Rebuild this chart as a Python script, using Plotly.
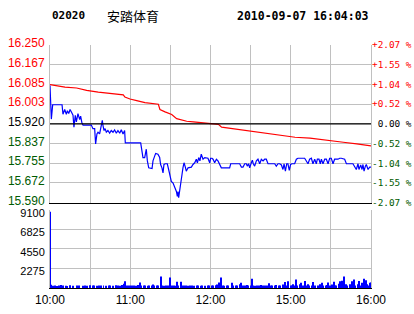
import plotly.graph_objects as go

# ---------------- data ----------------
CODE = "02020"
NAME = "安踏体育"
STAMP = "2010-09-07 16:04:03"
PREV_CLOSE = 15.920

# minutes since 10:00 (trading minutes; 12:30 joins 14:30)
PRICE_T = [0, 1, 2, 9, 9.7, 11, 12.2, 13, 14, 15, 16, 17.2, 17.9, 18.9, 19.7, 20.9, 22.2, 22.9, 23.9, 24.7,
           30.9, 32.1, 33.4, 34.1, 35.1, 35.9, 37.1, 37.9, 39.1, 39.6, 40.4, 41.2, 42.1, 43.3, 44.6, 45.8,
           47.1, 48.3, 49.6, 50.8, 52.1, 53.3, 54.6, 55.8, 56.3,
           67.8, 68.3, 69.5, 70.8, 71.3, 72.0, 72.8, 73.8, 76.3, 77.0, 78.3, 79.0, 80.7, 82.0, 82.7, 83.7,
           84.5, 85.2, 86.2, 87.7, 88.7, 89.5, 90.7, 92.0, 93.2, 94.5, 95.2, 95.7, 96.2, 97.0, 97.7, 98.7,
           99.4, 100.2, 101.2, 101.9, 103.2, 104.4, 105.7, 106.9, 108.2, 109.4, 110.2, 111.2, 112.1, 113.1,
           114.4, 115.7, 118.1, 119.4, 120.1, 121.1,
           121.9, 123.1, 124.4, 125.6, 126.9, 128.1, 134.3, 135.1, 141.8, 143.1, 144.3, 145.6, 146.8, 147.5,
           148.5, 149.3, 150.5, 151.3, 152.0, 153.0, 154.3, 155.5, 156.8, 158.0, 159.3, 160.5, 161.7, 163.0,
           168.0, 169.2, 170.5, 171.7, 173.0, 174.2, 175.0, 176.0, 177.0, 177.9, 178.9, 179.9, 180.9,
           181.7, 182.9, 184.2, 185.4, 190.4, 191.6, 192.9, 194.1, 195.4, 196.6, 197.9, 199.1, 199.9, 201.1,
           202.1, 202.9, 204.1, 205.4, 206.6, 207.9, 209.1, 210.3, 211.6, 212.8, 215.3, 216.6, 217.8, 220.3,
           221.6, 226.5, 227.8, 229.0, 230.3, 231.0, 232.3, 233.3, 234.0, 234.8, 235.8, 236.5, 237.8, 239.0, 240]
PRICE_V = [16.08, 15.94, 16.00, 16.00, 15.96, 15.98, 15.96, 15.975, 15.963, 15.98, 15.97, 15.956, 15.906,
           15.956, 15.928, 15.963, 15.938, 15.952, 15.923, 15.915,
           15.915, 15.90, 15.90, 15.836, 15.878, 15.885, 15.878, 15.906, 15.935, 15.914, 15.892, 15.90,
           15.885, 15.892, 15.881, 15.892, 15.885, 15.895, 15.881, 15.892, 15.881, 15.895, 15.878, 15.892,
           15.84,
           15.84, 15.814, 15.779, 15.779, 15.793, 15.814, 15.765, 15.736, 15.733, 15.765, 15.786, 15.796,
           15.793, 15.779, 15.75, 15.736, 15.715, 15.75, 15.753, 15.753, 15.729, 15.708, 15.679, 15.672,
           15.658, 15.637, 15.616, 15.637, 15.611, 15.651, 15.672, 15.708, 15.736, 15.757, 15.739, 15.722,
           15.736, 15.736, 15.739, 15.75, 15.757, 15.772, 15.757, 15.779, 15.765, 15.793, 15.772, 15.779,
           15.776, 15.757, 15.776, 15.776,
           15.772, 15.757, 15.772, 15.765, 15.753, 15.736, 15.736, 15.753, 15.753, 15.739, 15.739, 15.753,
           15.753, 15.743, 15.753, 15.736, 15.757, 15.768, 15.753, 15.743, 15.765, 15.772, 15.753, 15.772,
           15.765, 15.772, 15.772, 15.753, 15.753, 15.743, 15.753, 15.753, 15.748, 15.729, 15.753, 15.722,
           15.753, 15.753, 15.725, 15.75, 15.753,
           15.753, 15.753, 15.772, 15.776, 15.776, 15.765, 15.753, 15.772, 15.776, 15.753, 15.772, 15.753,
           15.772, 15.772, 15.753, 15.772, 15.753, 15.772, 15.772, 15.753, 15.776, 15.776, 15.753, 15.772,
           15.772, 15.776, 15.776, 15.772, 15.753, 15.753, 15.743, 15.729, 15.753, 15.729, 15.748, 15.729,
           15.75, 15.722, 15.743, 15.75, 15.729, 15.739, 15.739]

AVG_T = [0, 11.2, 19.9, 27.4, 36.1, 43.6, 54.8, 56, 59.8, 64.8, 71, 81, 82.2, 86, 91, 94.7, 98.5, 102.2,
         107.2, 115.9, 117.1, 125.9, 128.3, 135.8, 142, 149.5, 158.3, 165.7, 172, 183.2, 194.4, 206.9,
         219.3, 229.3, 236.8, 240]
AVG_V = [16.084, 16.074, 16.070, 16.060, 16.053, 16.049, 16.041, 16.032, 16.024, 16.017, 16.009, 16.002,
         15.98, 15.970, 15.959, 15.942, 15.935, 15.931, 15.928, 15.923, 15.921, 15.918, 15.906, 15.90,
         15.895, 15.889, 15.882, 15.878, 15.874, 15.864, 15.86, 15.853, 15.843, 15.836, 15.831, 15.828]

VOLUME = [8900, 380, 250, 0, 300, 220, 0, 280, 350, 0, 300, 0, 260, 200, 0, 320, 0, 250, 0, 0,
          280, 0, 300, 0, 0, 260, 300, 0, 250, 0, 330, 0, 280, 300, 0, 250, 0, 300, 280, 0,
          300, 0, 250, 0, 280, 300, 0, 260, 0, 320, 0, 300, 250, 0, 340, 500, 780, 300, 280, 0,
          300, 280, 0, 300, 250, 0, 350, 650, 300, 0, 280, 300, 0, 250, 300, 0, 280, 400, 300, 0,
          300, 280, 0, 1340, 300, 250, 0, 280, 300, 0, 1230, 280, 0, 300, 250, 720, 300, 0, 720, 280,
          300, 0, 280, 250, 0, 300, 280, 0, 260, 0, 300, 280, 0, 250, 300, 0, 260, 0, 300, 280,
          0, 300, 280, 0, 320, 420, 650, 0, 1230, 300, 250, 0, 280, 300, 0, 0, 620, 300, 0, 280,
          300, 0, 450, 620, 300, 0, 280, 350, 300, 0, 280, 1070, 300, 250, 0, 300, 280, 0, 350, 300,
          0, 280, 300, 0, 550, 300, 280, 0, 300, 350, 0, 300, 280, 0, 400, 300, 700, 300, 800, 0,
          300, 280, 450, 300, 1000, 300, 0, 450, 620, 300, 0, 820, 300, 450, 280, 0, 300, 700, 300, 0,
          280, 300, 450, 600, 300, 0, 280, 350, 650, 300, 0, 400, 720, 300, 280, 0, 500, 780, 850, 300,
          1340, 450, 300, 0, 450, 300, 780, 1000, 300, 0, 450, 820, 300, 600, 0, 1070, 900, 450, 300, 600,
          650]
VOL_T = list(range(len(VOLUME)))

PRICE_TICKS = [15.590, 15.6725, 15.755, 15.8375, 15.920, 16.0025, 16.085, 16.1675, 16.250]
PRICE_LABELS = ["15.590", "15.672", "15.755", "15.837", "15.920", "16.003", "16.085", "16.167", "16.250"]
PCT_TICKS = [-2.0729, -1.5547, -1.0364, -0.5182, 0.0, 0.5182, 1.0364, 1.5547, 2.0729]
PCT_LABELS = ["-2.07 %", "-1.55 %", "-1.04 %", "-0.52 %", "\u00a00.00 %", "+0.52 %", "+1.04 %", "+1.55 %", "+2.07 %"]
VOL_TICKS = [0, 2275, 4550, 6825, 9100]
VOL_LABELS = ["", "2275", "4550", "6825", "9100"]
TIME_TICKS = [0, 30, 60, 90, 120, 150, 180, 210, 240]
TIME_LABELS = ["10:00", "", "11:00", "", "12:00", "", "15:00", "", "16:00"]

# ---------------- style ----------------
RED = "#ff0000"
GREEN = "#005a00"
BLACK = "#000000"
GRID = "#c0c0c0"
BLUE = "#0000ff"


def colored(labels, ticks, mid):
    out = []
    for lab, t in zip(labels, ticks):
        c = RED if t > mid + 1e-9 else (GREEN if t < mid - 1e-9 else BLACK)
        out.append(f'<span style="color:{c}">{lab}</span>')
    return out


fig = go.Figure()
fig.add_trace(go.Scatter(x=AVG_T, y=AVG_V, mode="lines", line=dict(color=RED, width=1.2),
                         xaxis="x", yaxis="y", hoverinfo="skip"))
fig.add_trace(go.Scatter(x=PRICE_T, y=PRICE_V, mode="lines", line=dict(color=BLUE, width=1.2),
                         xaxis="x", yaxis="y", hoverinfo="skip"))
fig.add_trace(go.Scatter(x=PRICE_T, y=[(p / PREV_CLOSE - 1) * 100 for p in PRICE_V], mode="lines",
                         line=dict(color="rgba(0,0,0,0)", width=0), xaxis="x", yaxis="y3",
                         hoverinfo="skip"))
fig.add_trace(go.Bar(x=VOL_T, y=VOLUME, marker=dict(color=BLUE, line=dict(width=0)), width=0.75,
                     xaxis="x2", yaxis="y2", hoverinfo="skip"))

fig.add_shape(type="line", xref="x domain", yref="y", x0=0, x1=1, y0=PREV_CLOSE, y1=PREV_CLOSE,
              line=dict(color=BLACK, width=1.2))

P_DOM = [0.351, 1.0]
V_DOM = [0.0, 0.321]

fig.update_layout(
    width=414, height=314,
    margin=dict(l=50, r=43, t=45, b=26, autoexpand=False),
    paper_bgcolor="white", plot_bgcolor="white",
    showlegend=False,
    font=dict(family="Liberation Sans, Arial", size=11, color=BLACK),
    xaxis=dict(domain=[0, 1], anchor="y", range=[0, 240], tickvals=TIME_TICKS, ticktext=[""] * 9,
               showgrid=True, gridcolor=GRID, gridwidth=1, showline=True, linecolor=BLACK, linewidth=1.2,
               ticks="", zeroline=False, fixedrange=True, automargin=False),
    yaxis=dict(domain=P_DOM, anchor="x", range=[15.590, 16.250], tickvals=PRICE_TICKS,
               ticktext=colored(PRICE_LABELS, PRICE_TICKS, PREV_CLOSE),
               tickfont=dict(family="Liberation Sans, Arial", size=12),
               showgrid=True, gridcolor=GRID, gridwidth=1, showline=True, linecolor=GRID, mirror=True,
               ticks="", zeroline=False, ticklabelstandoff=2, ticklabelshift=-2, automargin=False),
    yaxis3=dict(overlaying="y", anchor="x", side="right", range=[-2.0729, 2.0729], tickvals=PCT_TICKS,
                ticktext=colored(PCT_LABELS, PCT_TICKS, 0.0),
                tickfont=dict(family="DejaVu Sans Mono", size=9.4),
                showgrid=False, showline=False, ticks="", zeroline=False, ticklabelstandoff=0,
                automargin=False),
    xaxis2=dict(domain=[0, 1], anchor="y2", range=[0, 240], tickvals=TIME_TICKS, ticktext=TIME_LABELS,
                tickfont=dict(family="Liberation Sans, Arial", size=12),
                showgrid=True, gridcolor=GRID, gridwidth=1, showline=True, linecolor=BLACK, linewidth=1.2,
                ticks="", zeroline=False, automargin=False),
    yaxis2=dict(domain=V_DOM, anchor="x2", range=[0, 9100], tickvals=VOL_TICKS, ticktext=VOL_LABELS,
                tickfont=dict(family="Liberation Sans, Arial", size=11),
                showgrid=True, gridcolor=GRID, gridwidth=1, showline=True, linecolor=GRID, mirror=True,
                ticks="", zeroline=False, ticklabelstandoff=2, ticklabelshift=3, automargin=False),
    bargap=0.3,
)

HDR_Y = 1.12
fig.add_annotation(text=f"<b>{CODE}</b>", xref="paper", yref="paper", x=0, y=HDR_Y, xanchor="left",
                   yanchor="middle", showarrow=False, font=dict(family="DejaVu Sans Mono", size=11, color=BLACK))
fig.add_annotation(text=NAME, xref="paper", yref="paper", x=0.171, y=HDR_Y, xanchor="left",
                   yanchor="middle", showarrow=False, font=dict(family="Noto Sans CJK SC", size=13, color=BLACK))
fig.add_annotation(text=f"<b>{STAMP}</b>", xref="paper", yref="paper", x=1.0, y=HDR_Y, xanchor="right",
                   yanchor="middle", showarrow=False, font=dict(family="DejaVu Sans Mono", size=11.5, color=BLACK))

fig.write_html("out.html")
